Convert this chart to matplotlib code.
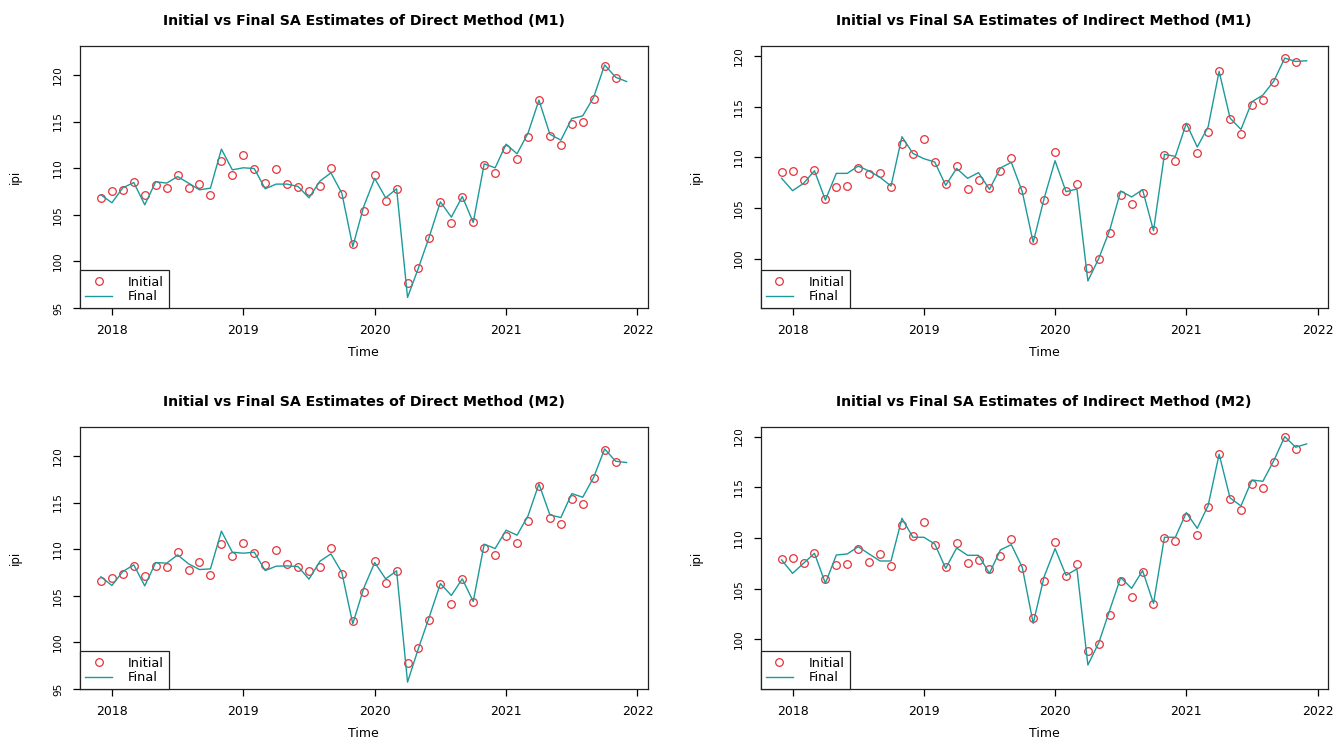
import numpy as np
import matplotlib
matplotlib.use("Agg")
import matplotlib.pyplot as plt

# monthly series, Dec 2017 .. Dec 2021 (ts time in decimal years)
time = 2017 + 11 / 12 + np.arange(49) / 12

init_d1 = [106.75, 107.5, 107.7, 108.5, 107.07, 108.2, 107.86, 109.32, 107.86, 108.3, 107.07, 110.75,
           109.32, 111.36, 109.86, 108.36, 109.96, 108.3, 107.93, 107.54, 108.1, 110.04, 107.18, 101.82,
           105.4, 109.23, 106.46, 107.79, 97.64, 99.32, 102.5, 106.39, 104.07, 106.89, 104.18, 110.29,
           109.43, 112.07, 110.96, 113.29, 117.29, 113.43, 112.43, 114.71, 114.96, 117.39, 121.0, 119.68]
final_d1 = [107.14, 106.29, 107.9, 108.46, 106.07, 108.54, 108.4, 109.1, 108.4, 107.68, 107.86, 112.04,
            109.82, 110.04, 109.96, 107.79, 108.29, 108.29, 108.04, 106.82, 108.61, 109.5, 107.32, 101.6,
            105.9, 108.9, 106.82, 107.79, 96.14, 99.32, 102.7, 106.39, 104.75, 106.96, 104.18, 110.46,
            110.04, 112.57, 111.54, 113.75, 117.29, 113.64, 113.0, 115.32, 115.61, 117.61, 121.07, 119.75, 119.29]

init_i1 = [108.52, 108.65, 107.73, 108.72, 105.92, 107.04, 107.14, 108.95, 108.39, 108.45, 107.07, 111.28,
           110.36, 111.84, 109.54, 107.34, 109.18, 106.91, 107.76, 107.01, 108.65, 109.93, 106.81, 101.86,
           105.76, 110.53, 106.68, 107.37, 99.08, 99.93, 102.5, 106.25, 105.43, 106.51, 102.8, 110.23,
           109.67, 113.0, 110.39, 112.53, 118.49, 113.82, 112.34, 115.13, 115.69, 117.4, 119.77, 119.41]
final_i1 = [107.93, 106.71, 107.43, 108.68, 105.79, 108.42, 108.42, 109.14, 108.65, 108.03, 107.17, 112.04,
            110.39, 109.87, 109.54, 107.24, 108.91, 107.93, 108.49, 106.84, 108.95, 109.51, 106.61, 101.61,
            105.95, 109.67, 106.61, 106.88, 97.8, 100.03, 102.83, 106.68, 106.09, 106.81, 102.76, 110.3,
            110.1, 113.36, 111.02, 113.03, 118.49, 113.88, 112.76, 115.49, 116.15, 117.53, 119.8, 119.47, 119.54]

init_d2 = [106.54, 106.96, 107.36, 108.25, 107.14, 108.18, 108.04, 109.71, 107.79, 108.68, 107.21, 110.61,
           109.25, 110.68, 109.61, 108.29, 109.96, 108.36, 108.11, 107.68, 108.07, 110.18, 107.39, 102.25,
           105.36, 108.7, 106.36, 107.64, 97.75, 99.39, 102.43, 106.32, 104.14, 106.82, 104.39, 110.14,
           109.36, 111.39, 110.71, 113.07, 116.82, 113.39, 112.75, 115.36, 114.86, 117.61, 120.68, 119.36]
final_d2 = [107.04, 106.11, 107.61, 108.32, 106.07, 108.57, 108.5, 109.39, 108.43, 107.82, 107.89, 111.93,
            109.68, 109.57, 109.68, 107.71, 108.18, 108.21, 108.14, 106.79, 108.71, 109.5, 107.5, 102.0,
            105.82, 108.57, 106.82, 107.68, 95.75, 99.39, 102.79, 106.32, 105.04, 106.82, 104.39, 110.54,
            110.07, 112.04, 111.5, 113.57, 117.0, 113.68, 113.39, 115.96, 115.57, 117.71, 120.75, 119.43, 119.29]

init_i2 = [107.9, 108.06, 107.57, 108.55, 105.92, 107.37, 107.4, 108.95, 107.63, 108.42, 107.27, 111.28,
           110.2, 111.61, 109.34, 107.17, 109.54, 107.53, 107.83, 106.91, 108.22, 109.93, 107.07, 102.07,
           105.79, 109.61, 106.28, 107.47, 98.88, 99.57, 102.43, 105.79, 104.21, 106.64, 103.49, 110.03,
           109.67, 112.04, 110.3, 113.03, 118.32, 113.85, 112.8, 115.33, 114.97, 117.5, 119.97, 118.82]
final_i2 = [107.83, 106.51, 107.5, 108.49, 105.53, 108.32, 108.42, 109.14, 108.42, 107.73, 107.73, 111.94,
            110.07, 110.07, 109.41, 107.0, 109.01, 108.29, 108.29, 106.51, 108.82, 109.34, 107.11, 101.58,
            106.18, 108.95, 106.32, 106.94, 97.47, 99.67, 102.89, 106.09, 105.03, 106.78, 103.55, 110.07,
            110.07, 112.5, 110.95, 113.22, 118.26, 113.95, 113.16, 115.72, 115.59, 117.63, 120.0, 118.95, 119.28]

titles = ["Initial vs Final SA Estimates of Direct Method (M1)",
          "Initial vs Final SA Estimates of Indirect Method (M1)",
          "Initial vs Final SA Estimates of Direct Method (M2)",
          "Initial vs Final SA Estimates of Indirect Method (M2)"]
initials = [init_d1, init_i1, init_d2, init_i2]
finals = [final_d1, final_i1, final_d2, final_i2]
ylims = [(94.98, 123.1), (95.1, 121.0), (94.98, 123.07), (95.07, 120.92)]
xticks = [2018, 2019, 2020, 2021, 2022]

# axes boxes in figure fractions (left, bottom, width, height)
boxes = [(0.0599, 0.5834, 0.4252, 0.3545),
         (0.5698, 0.5834, 0.4247, 0.3545),
         (0.0599, 0.0685, 0.4252, 0.3541),
         (0.5698, 0.0685, 0.4247, 0.3541)]

red = "#E5323A"
teal = "#1C9A9A"

fig = plt.figure(figsize=(13.35, 7.4), dpi=100)

for k in range(4):
    ax = fig.add_axes(boxes[k])
    n0 = len(initials[k])
    ax.plot(time[:n0], initials[k], linestyle="none", marker="o", markersize=5.5,
            markerfacecolor="none", markeredgecolor=red, markeredgewidth=0.9, label="Initial")
    ax.plot(time, finals[k], color=teal, linewidth=1.0, label="Final")

    ax.set_xlim(2017.757, 2022.077)
    ax.set_ylim(*ylims[k])
    ax.set_xticks(xticks)
    ax.set_xticklabels([str(t) for t in xticks])
    ax.set_yticks([t for t in range(95, 125, 5) if ylims[k][0] <= t <= ylims[k][1]])

    for s in ax.spines.values():
        s.set_linewidth(0.9)
        s.set_color("#222222")
    ax.tick_params(axis="x", length=5, width=0.9, pad=6, labelsize=9)
    ax.tick_params(axis="y", length=5, width=0.9, pad=7, labelsize=7.5)
    for lab in ax.get_yticklabels():
        lab.set_rotation(90)
        lab.set_va("center")

    ax.set_title(titles[k], fontsize=10.2, fontweight="bold", pad=15)
    ax.set_xlabel("Time", fontsize=9, va="center")
    ax.xaxis.set_label_coords(0.5, -0.168)
    ax.set_ylabel("ipi", fontsize=8.5, va="center")
    ax.yaxis.set_label_coords(-0.114, 0.5)

    leg = ax.legend(loc="lower left", bbox_to_anchor=(0, 0), borderaxespad=0,
                    fontsize=9.3, frameon=True, fancybox=False, framealpha=1,
                    handlelength=2.1, handletextpad=1.2, labelspacing=0.12,
                    borderpad=0.4)
    leg.get_frame().set_edgecolor("#222222")
    leg.get_frame().set_linewidth(0.9)

fig.savefig("out.png", dpi=100)
